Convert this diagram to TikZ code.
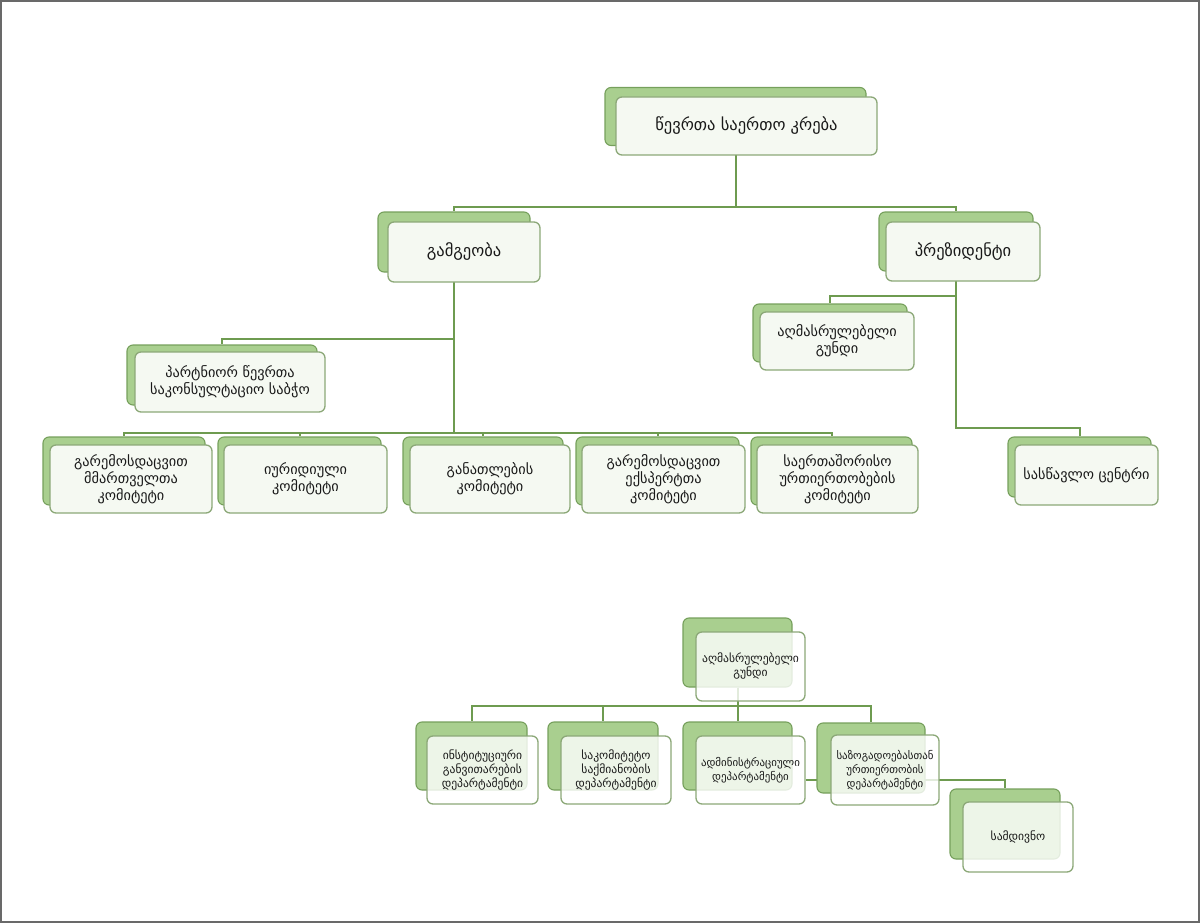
\documentclass[tikz,border=0pt]{standalone}
\usepackage{fontspec}
\setmainfont{DejaVu Sans}
\usetikzlibrary{backgrounds}
\definecolor{backfill}{RGB}{169,207,143}
\definecolor{backdraw}{RGB}{118,160,92}
\definecolor{frontdraw}{RGB}{140,168,120}
\definecolor{frontfill}{RGB}{245,249,242}
\definecolor{linecol}{RGB}{110,155,80}
\definecolor{framecol}{RGB}{105,105,105}
\tikzset{
  backbox/.style={draw=backdraw, fill=backfill, rounded corners=6pt, line width=1.1pt, inner sep=0pt},
  frontbox/.style={draw=frontdraw, fill=frontfill, rounded corners=6pt, line width=1.3pt, inner sep=0pt, align=center, text=black!90},
  lowfront/.style={fill=white, fill opacity=0.8, text opacity=1},
  conn/.style={draw=linecol, line width=2pt},
  bigtxt/.style={font=\fontsize{16.5}{19}\selectfont},
  midtxt/.style={font=\fontsize{14.3}{17}\selectfont},
  smalltxt/.style={lowfront, font=\fontsize{11.6}{14}\selectfont},
  tinytxt/.style={lowfront, font=\fontsize{10.9}{14}\selectfont}
}
\newcommand\twobox[9]{%
  \pgfmathsetmacro\tbW{#4-#2}\pgfmathsetmacro\tbH{#5-#3}%
  \pgfmathsetmacro\tbX{(#2+#4)/2}\pgfmathsetmacro\tbY{(#3+#5)/2}%
  \node[backbox, minimum width=\tbW pt, minimum height=\tbH pt] (#1b) at (\tbX-#6,\tbY-#7) {};
  \node[frontbox, #8, minimum width=\tbW pt, minimum height=\tbH pt] (#1) at (\tbX,\tbY) {#9};
}
\begin{document}
\begin{tikzpicture}[x=1pt,y=-1pt]
\useasboundingbox (0,0) rectangle (1200,923);

% ---- boxes (upper chart) ----
\twobox{top}{616}{97}{877}{155}{11}{9.5}{bigtxt}{წევრთა საერთო კრება}
\twobox{gam}{388}{222}{540}{282}{10}{10}{bigtxt}{გამგეობა}
\twobox{pres}{886}{222}{1040}{281}{7}{10}{bigtxt}{პრეზიდენტი}
\twobox{ag}{760}{312}{914}{370}{7}{8}{midtxt}{აღმასრულებელი\\გუნდი}
\twobox{part}{135}{352}{325}{412}{8}{7}{midtxt}{პარტნიორ წევრთა\\საკონსულტაციო საბჭო}
\twobox{ca}{50}{445}{212}{513}{7}{8}{midtxt}{გარემოსდაცვით\\მმართველთა\\კომიტეტი}
\twobox{cb}{224}{445}{387}{513}{6}{8}{midtxt}{იურიდიული\\კომიტეტი}
\twobox{cc}{410}{445}{570}{513}{7}{8}{midtxt}{განათლების\\კომიტეტი}
\twobox{cd}{582}{445}{745}{513}{6}{8}{midtxt}{გარემოსდაცვით\\ექსპერტთა\\კომიტეტი}
\twobox{ce}{757}{445}{918}{513}{6}{8}{midtxt}{საერთაშორისო\\ურთიერთობების\\კომიტეტი}
\twobox{sc}{1015}{445}{1158}{505}{7}{8}{midtxt}{სასწავლო ცენტრი}

% ---- boxes (lower chart) ----
\twobox{agl}{696}{632}{805}{701}{13}{14}{smalltxt}{აღმასრულებელი\\გუნდი}
\twobox{da}{427}{736}{538}{804}{11}{14}{smalltxt}{ინსტიტუციური\\განვითარების\\დეპარტამენტი}
\twobox{db}{561}{736}{671}{804}{13}{14}{smalltxt}{საკომიტეტო\\საქმიანობის\\დეპარტამენტი}
\twobox{dc}{696}{736}{805}{804}{13}{14}{tinytxt}{ადმინისტრაციული\\დეპარტამენტი}
\twobox{dd}{831}{735}{939}{805}{14}{12}{tinytxt}{საზოგადოებასთან\\ურთიერთობის\\დეპარტამენტი}
\twobox{sam}{963}{802}{1073}{872}{13}{13}{smalltxt}{სამდივნო}

% ---- connectors behind the boxes ----
\begin{scope}[on background layer]
\draw[conn] (topb.south) -- ++(0,61) -| (gamb.north);
\draw[conn] (topb.south) -- ++(0,61) -| (presb.north);
\draw[conn] (gamb.south) -- ++(0,66) -| (partb.north);
\foreach \c in {ca,cb,cc,cd,ce}{
  \draw[conn] (gamb.south) -- ++(0,160) -| (\c b.north);
}
\draw[conn] (presb.south) -- ++(0,24) -| (agb.north);
\draw[conn] (presb.south) -- ++(0,156) -| (scb.north);
\foreach \d in {da,db,dc,dd}{
  \draw[conn] (aglb.south) -- ++(0,18) -| (\d b.north);
}
\draw[conn] ([yshift=-10pt]dc.east) -| (samb.north);
\draw[framecol, line width=2pt] (1,1) rectangle (1199,922);
\end{scope}
\end{tikzpicture}
\end{document}
